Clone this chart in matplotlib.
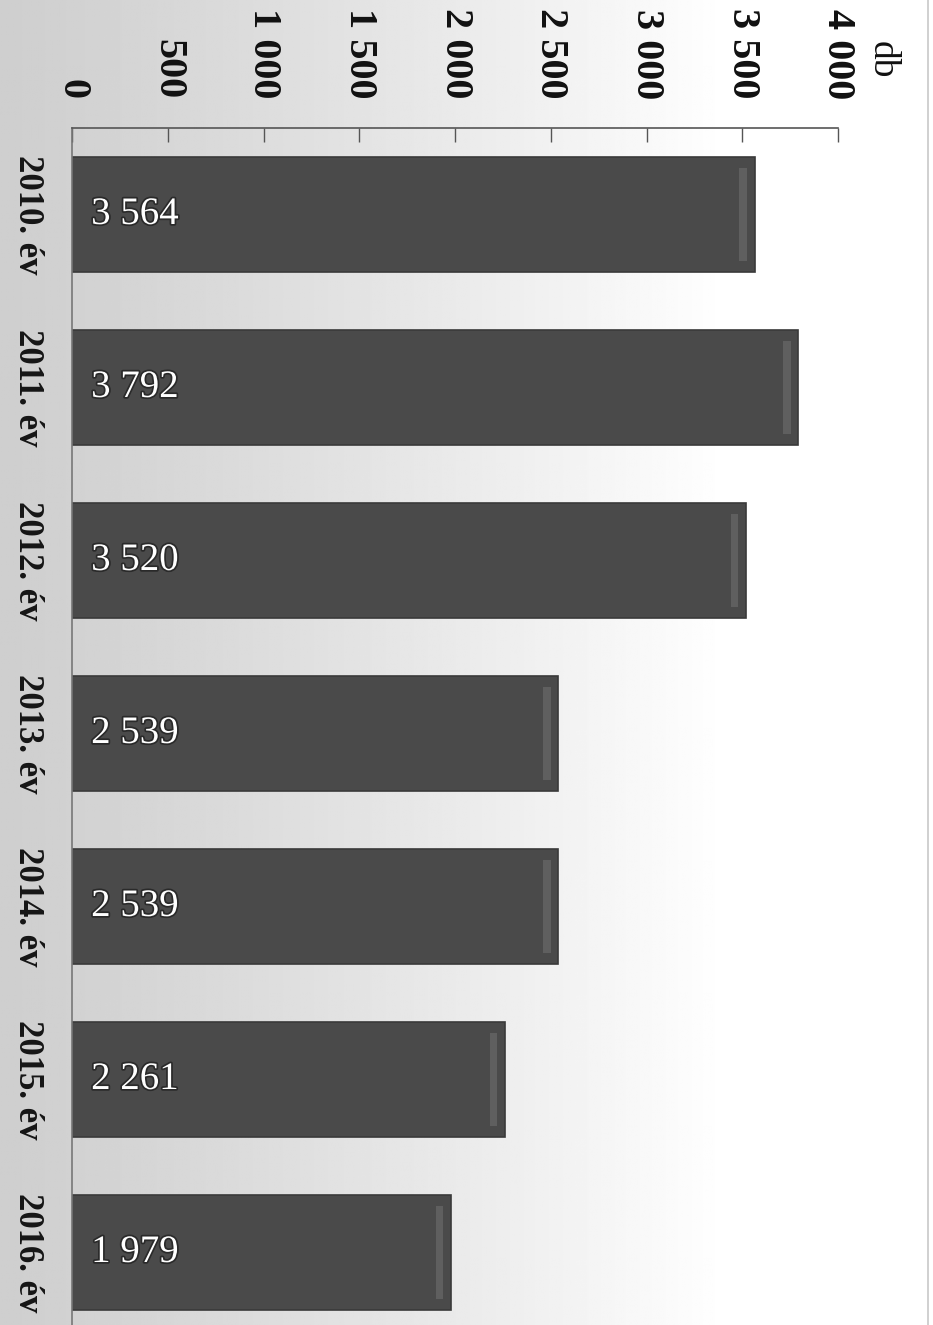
import numpy as np
import matplotlib
matplotlib.use("Agg")
import matplotlib.pyplot as plt
import matplotlib.patheffects as pe
from matplotlib.patches import Rectangle

categories = ["2010. év", "2011. év", "2012. év", "2013. év", "2014. év", "2015. év", "2016. év"]
values = [3564, 3792, 3520, 2539, 2539, 2261, 1979]
ticks = [0, 500, 1000, 1500, 2000, 2500, 3000, 3500, 4000]
tick_labels = ["0", "500", "1 000", "1 500", "2 000", "2 500", "3 000", "3 500", "4 000"]
unit_label = "db"

W, H = 933, 1325
fig = plt.figure(figsize=(W / 100, H / 100), dpi=100)
fig.patch.set_facecolor("white")

# background gradient (scan look: grey on the left fading to white)
bg = fig.add_axes([0, 0, 1, 1], zorder=0)
xs = np.linspace(0, 1, 400)
g = 0.81 + 0.19 * np.clip(xs / 0.78, 0, 1) ** 1.2
img = np.tile(g, (10, 1))
bg.imshow(img, cmap="gray", vmin=0, vmax=1, aspect="auto", extent=[0, 1, 0, 1])
bg.plot([928 / W, 928 / W], [0, 1], color="#c8c8c8", lw=1.2)
bg.set_xlim(0, 1)
bg.set_ylim(0, 1)
bg.axis("off")

left = 72 / W
right = 838 / W
top = 1 - 128 / H
bottom = (H - 1339) / H
ax = fig.add_axes([left, bottom, right - left, top - bottom], zorder=1)
ax.patch.set_alpha(0)

serif = ["Liberation Serif", "DejaVu Serif"]
ypos = np.arange(len(categories))
bh = 0.66
ax.barh(ypos, values, height=bh, color="#4a4a4a", edgecolor="#3a3a3a", linewidth=1.2, zorder=2)
# bevel highlight near bar ends
for y, v in zip(ypos, values):
    ax.add_patch(Rectangle((v - 80, y - bh / 2 + 0.06), 40, bh - 0.12,
                           facecolor="#6e6e6e", edgecolor="none", alpha=0.6, zorder=3))
    ax.text(100, y, f"{v:,}".replace(",", " "), ha="left", va="center", color="white",
            fontsize=28, family=serif, zorder=4,
            path_effects=[pe.withStroke(linewidth=2.5, foreground="#2a2a2a")])

ax.set_xlim(0, 4000)
ax.set_ylim(6.5, -0.5)
ax.xaxis.tick_top()
ax.set_xticks(ticks)
ax.set_xticklabels(tick_labels, rotation=-90, fontsize=29, fontweight="bold", family=serif, color="#111111")
ax.tick_params(axis="x", direction="in", length=10, width=1, color="#555555", pad=21)
ax.set_yticks(ypos)
ax.set_yticklabels(categories, rotation=-90, fontsize=25, fontweight="bold", family=serif,
                   color="#151515", va="center")
ax.tick_params(axis="y", length=0, pad=20)
for s in ["right", "bottom"]:
    ax.spines[s].set_visible(False)
ax.spines["top"].set_color("#555555")
ax.spines["top"].set_linewidth(1.2)
ax.spines["left"].set_color("#777777")
ax.spines["left"].set_linewidth(1.2)

fig.text(882 / W, 1 - 60 / H, unit_label, rotation=-90, fontsize=27, family=serif,
         color="#111111", ha="center", va="center")

fig.savefig("out.png", dpi=100)
